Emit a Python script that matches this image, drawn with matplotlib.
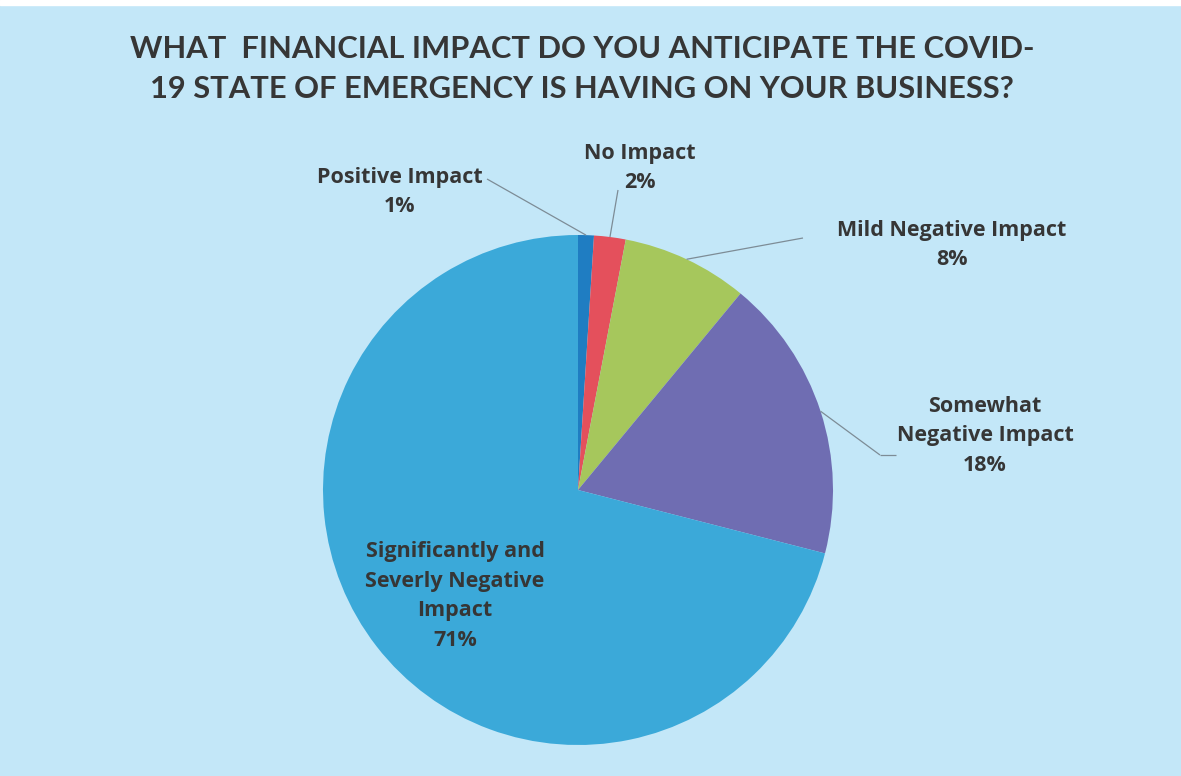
import numpy as np
import matplotlib.pyplot as plt
from matplotlib.patches import Rectangle

labels = ['Positive Impact', 'No Impact', 'Mild Negative Impact',
          'Somewhat\nNegative Impact', 'Significantly and\nSeverly Negative\nImpact']
values = [1, 2, 8, 18, 71]
colors = ['#1f7dc2', '#e4505c', '#a6c75c', '#6f6db2', '#3ba9d9']

bg = '#c3e7f8'
txt = '#363636'

fig = plt.figure(figsize=(11.81, 7.76), dpi=100, facecolor=bg)
fig.patches.append(Rectangle((0, 0.994), 1, 0.006, transform=fig.transFigure,
                             color='white', zorder=0))

W, H = 1181, 776
cx, cy, r = 578, 490, 255
ax = fig.add_axes([(cx - r) / W, (H - cy - r) / H, 2 * r / W, 2 * r / H])
ax.set_facecolor(bg)

wedges, _ = ax.pie(values, colors=colors, startangle=90, counterclock=False,
                   radius=1, wedgeprops=dict(linewidth=0))
ax.set_xlim(-1, 1)
ax.set_ylim(-1, 1)
ax.set_aspect('equal')
ax.axis('off')


def px(x, y):
    # pixel position -> data coords of the pie axes
    return (x - cx) / r, (cy - y) / r


def edge(w, frac=1.0):
    a = np.deg2rad((w.theta1 + w.theta2) / 2)
    return frac * np.cos(a), frac * np.sin(a)


lab_font = dict(family='Open Sans', fontweight='bold', fontsize=15.5, color=txt,
                ha='center', va='center', linespacing=1.55)
line_kw = dict(color='#7d8c96', lw=0.9, solid_capstyle='butt', clip_on=False)

# label positions (pixels) and leader end points
label_pos = [(400, 192), (640, 168), (952, 245), (985, 436)]
leader_end = [(487, 179), (618, 190), (803, 238), (880, 455)]

for i in range(4):
    pct = '%d%%' % values[i]
    x, y = px(*label_pos[i])
    ax.text(x, y, labels[i] + '\n' + pct, **lab_font)
    ex, ey = edge(wedges[i])
    tx, ty = px(*leader_end[i])
    ax.plot([ex, tx], [ey, ty], **line_kw)

# horizontal tail on the last leader
tx, ty = px(*leader_end[3])
tx2, _ = px(896, 455)
ax.plot([tx, tx2], [ty, ty], **line_kw)

x, y = px(455, 596)
ax.text(x, y, labels[4] + '\n%d%%' % values[4], **lab_font)

fig.text(0.493, 1 - 69 / H, 'WHAT  FINANCIAL IMPACT DO YOU ANTICIPATE THE COVID-\n'
         '19 STATE OF EMERGENCY IS HAVING ON YOUR BUSINESS?',
         family='Lato', fontweight='bold', fontsize=22.2, color=txt,
         ha='center', va='center', linespacing=1.5)

fig.savefig('out.png', dpi=100, facecolor=bg)
